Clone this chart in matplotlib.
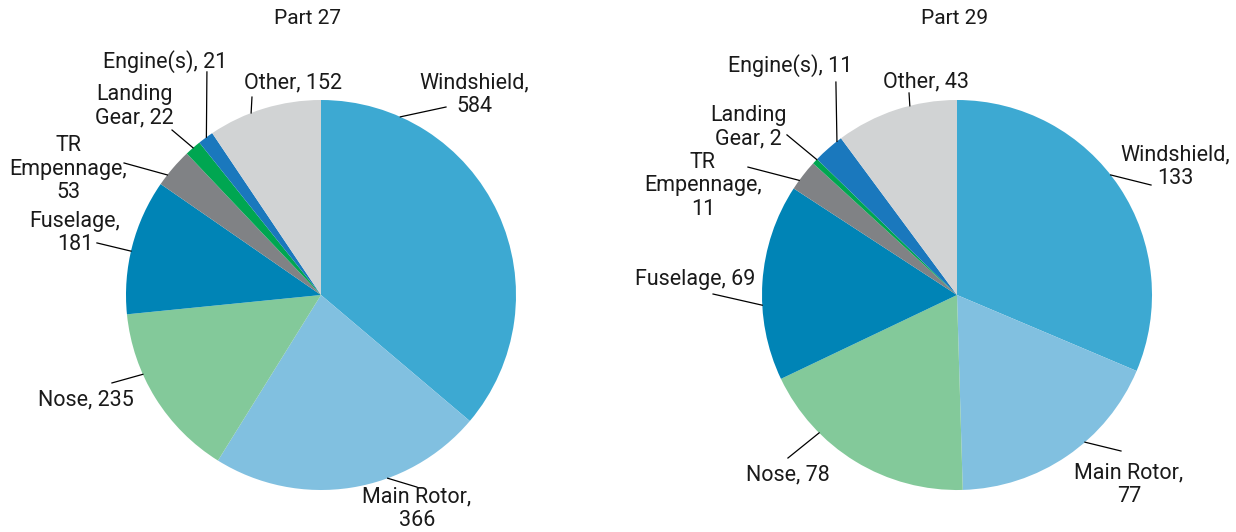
import numpy as np
import matplotlib
matplotlib.use("Agg")
import matplotlib.pyplot as plt

plt.rcParams['font.family'] = ['Roboto', 'DejaVu Sans']

# data
categories = ["Windshield", "Main Rotor", "Nose", "Fuselage",
              "TR Empennage", "Landing Gear", "Engine(s)", "Other"]
part27 = [584, 366, 235, 181, 53, 22, 21, 152]
part29 = [133, 77, 78, 69, 11, 2, 11, 43]
colors = ["#3da9d2", "#81c0e0", "#83c99a", "#0084b6",
          "#808285", "#00a651", "#1a78bd", "#d1d3d4"]

# label text as written on the chart
labels27 = ["Windshield,\n584", "Main Rotor,\n366", "Nose, 235", "Fuselage,\n181",
            "TR\nEmpennage,\n53", "Landing\nGear, 22", "Engine(s), 21", "Other, 152"]
labels29 = ["Windshield,\n133", "Main Rotor,\n77", "Nose, 78", "Fuselage, 69",
            "TR\nEmpennage,\n11", "Landing\nGear, 2", "Engine(s), 11", "Other, 43"]

# label layout (pie radius units): leader angle on rim (clockwise from top),
# leader end, text centre
lay27 = [(24, (0.641, 0.964), (0.785, 1.026)),
         (160, (0.492, -0.985), (0.492, -1.097)),
         (246, (-1.072, -0.451), (-1.205, -0.538)),
         (283, (-1.149, 0.267), (-1.262, 0.318)),
         (308, (-1.010, 0.677), (-1.297, 0.646)),
         (319, (-0.764, 0.846), (-0.959, 0.969)),
         (324, (-0.585, 1.144), (-0.800, 1.195)),
         (339, (-0.354, 1.015), (-0.144, 1.087))]
lay29 = [(52, (0.995, 0.564), (1.118, 0.656)),
         (139, (0.841, -0.800), (0.882, -0.974)),
         (225, (-0.867, -0.836), (-0.867, -0.923)),
         (267, (-1.251, 0.005), (-1.344, 0.077)),
         (306, (-1.072, 0.656), (-1.303, 0.559)),
         (314, (-0.872, 0.821), (-1.072, 0.862)),
         (322, (-0.621, 1.092), (-0.856, 1.179)),
         (346, (-0.246, 1.036), (-0.159, 1.092))]

W, H = 1236, 532
R = 195
half = 220


def draw(cx, cy, vals, labels, lay, title, tx):
    ax = fig.add_axes([(cx - half) / W, (H - cy - half) / H, 2 * half / W, 2 * half / H])
    lim = half / R
    ax.pie(vals, colors=colors, startangle=90, counterclock=False, radius=1,
           wedgeprops=dict(linewidth=0))
    ax.set_xlim(-lim, lim)
    ax.set_ylim(-lim, lim)
    ax.set_aspect('equal')
    ax.axis('off')
    for lab, (ang, end, txt) in zip(labels, lay):
        a = np.radians(ang)
        x0, y0 = np.sin(a), np.cos(a)
        ax.plot([x0, end[0]], [y0, end[1]], color='black', lw=0.9, clip_on=False)
        ax.text(txt[0], txt[1], lab, ha='center', va='center', fontsize=15.5,
                linespacing=1.15, color='#1a1a1a', clip_on=False)
    fig.text(tx / W, 1 - 18 / H, title, ha='center', va='center', fontsize=15,
             color='#1a1a1a')


fig = plt.figure(figsize=(12.36, 5.32), dpi=100)
draw(321, 295, part27, labels27, lay27, "Part 27", 307)
draw(957, 295, part29, labels29, lay29, "Part 29", 955)
fig.savefig("out.png", dpi=100)
